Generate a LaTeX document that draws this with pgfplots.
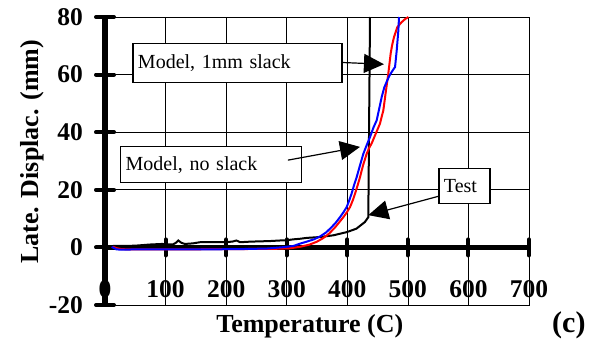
\documentclass[border=0pt]{standalone}
\usepackage{fontspec}
\setmainfont{Liberation Serif}
\usepackage{pgfplots}
\pgfplotsset{compat=1.18}
\usetikzlibrary{arrows.meta}

\newcommand{\tickfont}{\bfseries\fontsize{25.5}{26}\selectfont}
\newcommand{\labfont}{\bfseries\fontsize{26}{27}\selectfont}
\newcommand{\boxfont}{\fontsize{20}{21}\selectfont}

\begin{document}
\begin{tikzpicture}
\path (0,0) rectangle (596pt,343pt);
\begin{axis}[
  set layers=standard,
  at={(105pt,38pt)}, anchor=south west,
  scale only axis, width=424pt, height=288pt,
  xmin=0, xmax=700, ymin=-20, ymax=80,
  xtick={0,100,...,700}, ytick={-20,0,...,80},
  xticklabels={0,100,200,300,400,500,600,700},
  yticklabels={-20,0,20,40,60,80},
  major tick length=0pt,
  grid=major, grid style={black, line width=0.7pt},
  axis line style={black, line width=0.9pt},
  tick label style={font=\tickfont, inner sep=0pt},
  xticklabel style={anchor=base, yshift=8pt},
  yticklabel style={anchor=east, xshift=-22pt},
  xlabel={Temperature (C)}, ylabel={Late. Displac. (mm)},
  label style={font=\labfont, inner sep=0pt},
  xlabel style={at={(axis description cs:0.483,-0.094)}, anchor=base},
  ylabel style={at={(axis description cs:-0.172,0.532)}, anchor=center},
  clip=false,
]
% heavy axes through the origin with their stub ticks
\draw[line width=5.5pt] (axis cs:0,-20) -- (axis cs:0,80);
\draw[line width=5.5pt] (axis cs:0,0) -- (axis cs:700,0);
\pgfplotsinvokeforeach{-20,0,20,40,60,80}{
  \draw[line width=4pt, line cap=round] ([xshift=-9pt]axis cs:0,#1) -- ([xshift=9pt]axis cs:0,#1);
}
\pgfplotsinvokeforeach{100,200,300,400,500,600,700}{
  \draw[line width=4pt, line cap=round] ([yshift=-8pt]axis cs:#1,0) -- ([yshift=8pt]axis cs:#1,0);
}

% Test
\addplot[black, line width=2pt] coordinates {
(13,0.5) (30,0.5) (50,0.6) (74,1.0) (94,1.2) (112,1.0) (117,1.6) (121,2.4) (126,1.6)
(132,1.2) (145,1.4) (157,1.8) (175,1.8) (195,1.8) (210,2.0) (217,2.4) (223,1.8) (240,2.0)
(256,2.1) (272,2.2) (289,2.4) (300,2.5) (311,2.8) (322,3.0) (333,3.3) (355,3.6) (377,4.2)
(399,5.3) (415,6.5) (429,8.8) (434.7,10.5) (435.5,30) (436.5,55) (437.5,80)
};
% Model, 1mm slack
\addplot[red, line width=2pt] coordinates {
(13,0.2) (20,-0.3) (27,-0.6) (40,-0.7) (100,-0.7) (200,-0.6) (280,-0.5) (305,-0.3)
(322,0.2) (338,1.0) (350,2.0) (360,3.2) (370,4.8) (380,7.0) (387,8.8) (393.5,10.5)
(399,12.1) (404.5,14.0) (409,16.3) (412.7,18.6) (417,21.5) (421,24.4) (426,28.5)
(432,32.5) (436,34.5) (440,36) (447,39.5) (454,43) (459.5,47.6) (463.9,54.5) (467.7,60.3)
(471.6,67.3) (474,70.2) (477.1,73) (482.6,76.5) (489.7,78.2) (495,79.2) (500.8,80)
};
% Model, no slack
\addplot[blue, line width=2pt] coordinates {
(11,0.2) (19,-0.7) (30,-0.8) (47,-0.7) (100,-0.7) (157,-0.7) (220,-0.6) (267,-0.4)
(295,0.1) (311,0.5) (322,1.3) (333,2.0) (345,2.8) (355,3.8) (365,5.2) (374,7.0)
(381,8.6) (388,10.5) (394,12.3) (399,14.0) (403,16.2) (407,18.6) (411,21.5) (415.5,24.4)
(421,28.5) (426.5,32.5) (432,35.5) (437.5,38.3) (443,41.5) (448.5,44.1) (452,47.5)
(456.8,52.2) (461,55.5) (466,58) (470,59.8) (473.3,60.9) (476,61.8) (478.8,62.6)
(480,65) (481.6,68.4) (483,72) (484.3,75.3) (485.4,80)
};

% callouts
\node[draw=black, line width=1.2pt, fill=white, font=\boxfont, inner xsep=5pt, inner ysep=0pt,
      text width=199pt, align=left, minimum height=39pt] at (axis cs:218.7,64.1) {Model, 1mm slack};
\node[draw=black, line width=1.2pt, fill=white, font=\boxfont, inner xsep=5pt, inner ysep=0pt,
      text width=171pt, align=left, minimum height=36pt] at (axis cs:175.3,28.65) {Model, no slack};
\node[draw=black, line width=1.2pt, fill=white, font=\boxfont, inner xsep=5pt, inner ysep=0pt,
      text width=41pt, align=left, minimum height=35pt] at (axis cs:593.5,21.3) {Test};
\draw[line width=1.2pt, -{Triangle[length=20pt, width=19pt]}] (axis cs:391.8,64.2) -- (axis cs:460.5,63.6);
\draw[line width=1.2pt, -{Triangle[length=20pt, width=19pt]}] (axis cs:302,30.3) -- (axis cs:421,34.9);
\draw[line width=1.2pt, -{Triangle[length=20pt, width=19pt]}] (axis cs:551.4,17.8) -- (axis cs:434.7,11.2);

\node[font=\bfseries\fontsize{30}{31}\selectfont, anchor=base, inner sep=0pt]
  at (axis description cs:1.094,-0.097) {(c)};
\end{axis}
\end{tikzpicture}
\end{document}
